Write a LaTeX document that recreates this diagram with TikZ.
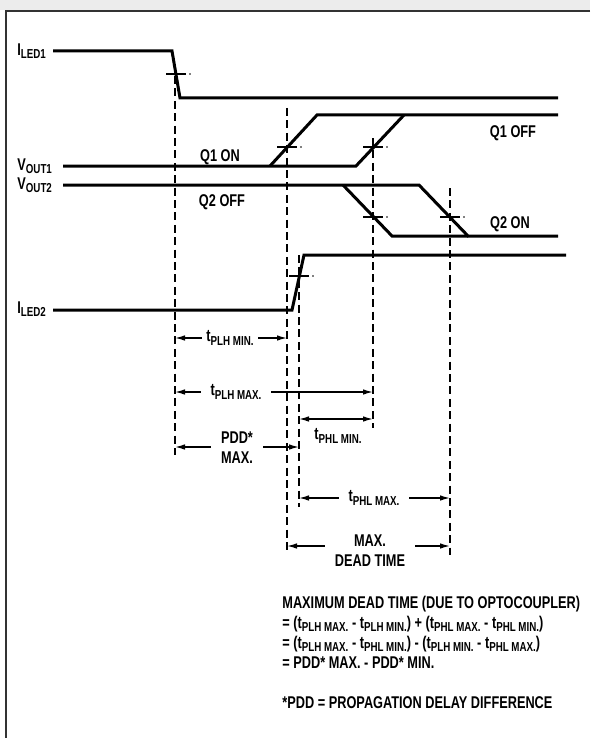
\documentclass[tikz,border=0pt]{standalone}
\usepackage{fontspec}
\setmainfont{Liberation Sans}[FakeStretch=0.75]
\usetikzlibrary{arrows.meta}

% lowered small subscript text
\newcommand\lsub[1]{\raisebox{-0.35ex}{\fontsize{6.5}{7}\selectfont #1}}
% small crossing mark with a dot beside it
\newcommand\crossmark[2]{%
  \draw[markline] (#1-10,#2) -- (#1+10,#2);
  \fill (#1+14,#2) circle (0.45pt);}

\tikzset{
  signal/.style={line width=1.5pt, line join=miter},
  guide/.style={line width=0.7pt, dash pattern=on 4pt off 2.2pt},
  markline/.style={line width=0.7pt},
  dimline/.style={line width=0.7pt, {Latex[length=5pt,width=2.8pt]}-{Latex[length=5pt,width=2.8pt]}},
  lbl/.style={font=\bfseries\fontsize{8.5}{10}\selectfont, inner sep=1pt},
  gaplbl/.style={lbl, fill=white, inner sep=2pt, align=center},
}

\begin{document}
\begin{tikzpicture}[x=0.5pt, y=-0.5pt]
        \useasboundingbox (0,0) rectangle (590,738);

        % Frame
        \fill[gray!15] (0,0) rectangle (590,10);
        \draw[line width=0.6pt, black!80] (590,11) -- (6,11) -- (6,738);

        % Signal names
        \node[lbl, anchor=west] (iled1) at (15,51) {I\lsub{LED1}};
        \node[lbl, anchor=west] (vout1) at (15,166) {V\lsub{OUT1}};
        \node[lbl, anchor=west] (vout2) at (15,185) {V\lsub{OUT2}};
        \node[lbl, anchor=west] (iled2) at (15,309) {I\lsub{LED2}};

        % I_LED1
        \coordinate (a1) at (53,51);
        \coordinate (a2) at (172,51);
        \coordinate (a3) at (180,98);
        \coordinate (a4) at (558,98);
        \draw[signal] (a1) -- (a2) -- (a3) -- (a4);
        \crossmark{176}{74}

        % V_OUT1 (two rising edges)
        \coordinate (b1) at (63,166);
        \coordinate (b2) at (270,166);
        \coordinate (b3) at (317,115);
        \coordinate (b4) at (558,115);
        \coordinate (b5) at (356,166);
        \coordinate (b6) at (404,115);
        \draw[signal] (b1) -- (b5) -- (b6);
        \draw[signal] (b2) -- (b3) -- (b4);
        \crossmark{287}{147}
        \crossmark{373}{147}

        % V_OUT2 (two falling edges)
        \coordinate (c1) at (63,185);
        \coordinate (c2) at (343,185);
        \coordinate (c3) at (392,236);
        \coordinate (c4) at (558,236);
        \coordinate (c5) at (419,185);
        \coordinate (c6) at (468,236);
        \draw[signal] (c1) -- (c5) -- (c6) -- (c4);
        \draw[signal] (c2) -- (c3) -- (c6);
        \crossmark{373}{217}
        \crossmark{450}{217}

        % I_LED2
        \coordinate (d1) at (53,310);
        \coordinate (d2) at (292,310);
        \coordinate (d3) at (304,255);
        \coordinate (d4) at (566,255);
        \draw[signal] (d1) -- (d2) -- (d3) -- (d4);
        \crossmark{299}{276}

        % State labels
        \node[lbl] (q1on) at (220,157) {Q1 ON};
        \node[lbl] (q2off) at (222,202) {Q2 OFF};
        \node[lbl] (q1off) at (513,133) {Q1 OFF};
        \node[lbl] (q2on) at (510,224) {Q2 ON};

        % Guide lines
        \draw[guide] (175,76) -- (175,455);
        \draw[guide] (287,108) -- (287,552);
        \draw[guide] (299,255) -- (299,507);
        \draw[guide] (373,138) -- (373,428);
        \draw[guide] (450,188) -- (450,555);

        % Dimension arrows
        \coordinate (e1) at (175,338);
        \coordinate (e2) at (287,338);
        \draw[dimline] (e1) -- (e2);
        \node[gaplbl] (tplhmin) at (230,338) {t\lsub{PLH MIN.}};

        \coordinate (f1) at (175,392);
        \coordinate (f2) at (373,392);
        \draw[dimline] (f1) -- (f2);
        \node[gaplbl, inner xsep=5pt] (tplhmax) at (236,392) {t\lsub{PLH MAX.}};

        \coordinate (g1) at (299,419);
        \coordinate (g2) at (373,419);
        \draw[dimline] (g1) -- (g2);
        \node[lbl] (tphlmin) at (338,436) {t\lsub{PHL MIN.}};

        \coordinate (h1) at (175,447);
        \coordinate (h2) at (299,447);
        \draw[dimline] (h1) -- (h2);
        \node[gaplbl, inner xsep=5pt] (pddmax) at (237,448) {PDD*\\MAX.};

        \coordinate (k1) at (299,498);
        \coordinate (k2) at (450,498);
        \draw[dimline] (k1) -- (k2);
        \node[gaplbl, inner xsep=5pt] (tphlmax) at (374,498) {t\lsub{PHL MAX.}};

        \coordinate (m1) at (287,546);
        \coordinate (m2) at (450,546);
        \draw[dimline] (m1) -- (m2);
        \node[gaplbl, inner xsep=5pt] (deadtime) at (370,551) {MAX.\\DEAD TIME};

        % Summary
        \node[lbl, anchor=north west, align=left, font=\bfseries\fontsize{8.5}{10}\selectfont] (summary) at (280,594)
          {MAXIMUM DEAD TIME (DUE TO OPTOCOUPLER)\\
           = (t\lsub{PLH MAX.} - t\lsub{PLH MIN.}) + (t\lsub{PHL MAX.} - t\lsub{PHL MIN.})\\
           = (t\lsub{PLH MAX.} - t\lsub{PHL MIN.}) - (t\lsub{PLH MIN.} - t\lsub{PHL MAX.})\\
           = PDD* MAX. - PDD* MIN.\\[10pt]
           *PDD = PROPAGATION DELAY DIFFERENCE};
    \end{tikzpicture}
\end{document}
